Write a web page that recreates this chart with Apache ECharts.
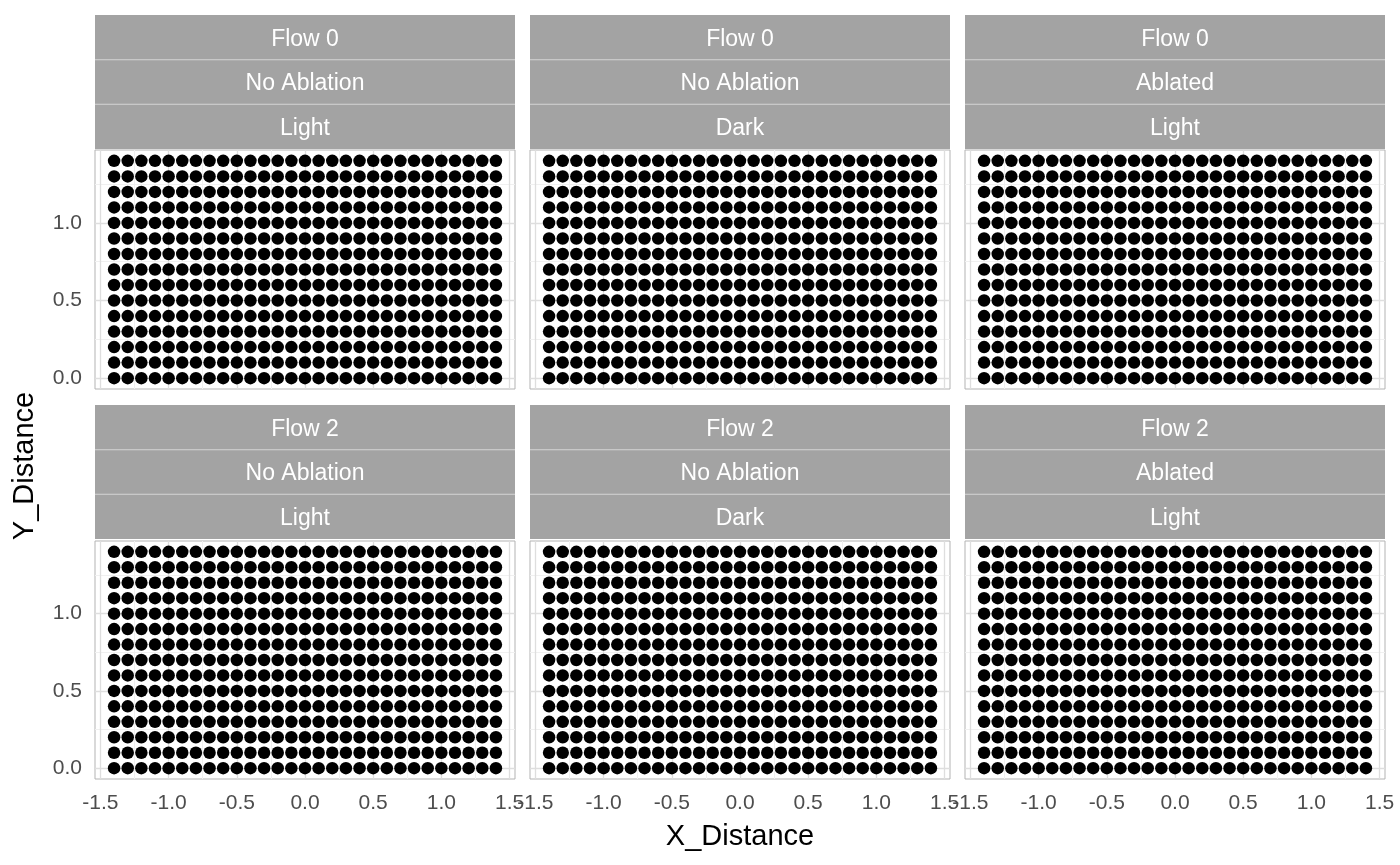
<!DOCTYPE html>
<html>
<head>
<meta charset="utf-8">
<script src="https://cdn.jsdelivr.net/npm/echarts@6/dist/echarts.min.js"></script>
<style>
  html, body { margin: 0; padding: 0; background: #fff; }
  #main { width: 1400px; height: 865px; }
</style>
</head>
<body>
<div id="main"></div>
<script>
// grid of measurement positions (same in every facet)
var xPositions = [-1.4, -1.3, -1.2, -1.1, -1.0, -0.9, -0.8, -0.7, -0.6, -0.5, -0.4, -0.3, -0.2, -0.1, 0.0,
                  0.1, 0.2, 0.3, 0.4, 0.5, 0.6, 0.7, 0.8, 0.9, 1.0, 1.1, 1.2, 1.3, 1.4];
var yPositions = [0.0, 0.1, 0.2, 0.3, 0.4, 0.5, 0.6, 0.7, 0.8, 0.9, 1.0, 1.1, 1.2, 1.3, 1.4];

// facet labels
var flowLabels = ['Flow 0', 'Flow 2'];              // rows
var ablationLabels = ['No Ablation', 'No Ablation', 'Ablated']; // columns
var lightLabels = ['Light', 'Dark', 'Light'];       // columns

// axis ticks
var xTicks = [-1.5, -1.0, -0.5, 0.0, 0.5, 1.0, 1.5];
var xMinor = [-1.25, -0.75, -0.25, 0.25, 0.75, 1.25];
var yTicks = [0.0, 0.5, 1.0];
var yMinor = [0.25, 0.75, 1.25];

var font = 'Liberation Sans, Arial, Helvetica, sans-serif';
var colLeft = [95, 530, 965];
var panelW = 420;
var stripTop = [15, 405];
var stripH = 134;
var plotTop = [150, 541];
var plotH = [239, 238];

var points = [];
yPositions.forEach(function (y) {
    xPositions.forEach(function (x) { points.push([x, y]); });
});

var grids = [], xAxes = [], yAxes = [], series = [], graphics = [];

function lineData(vals, key) {
    return vals.map(function (v) { var o = {}; o[key] = v; return o; });
}

for (var r = 0; r < 2; r++) {
    for (var c = 0; c < 3; c++) {
        var i = r * 3 + c;
        grids.push({
            left: colLeft[c], top: plotTop[r], width: panelW, height: plotH[r],
            show: true, borderColor: '#b3b3b3', borderWidth: 1, backgroundColor: '#fff'
        });
        xAxes.push({
            gridIndex: i, type: 'value', min: -1.54, max: 1.54,
            axisLine: { show: false },
            splitLine: { show: false },
            axisTick: { show: r == 1, customValues: xTicks, length: 7, lineStyle: { color: '#b3b3b3' } },
            axisLabel: {
                show: r == 1, customValues: xTicks, margin: 14,
                color: '#4d4d4d', fontSize: 21, fontFamily: font,
                formatter: function (v) { return v.toFixed(1); }
            },
            name: (r == 1 && c == 1) ? 'X_Distance' : '',
            nameLocation: 'middle', nameGap: 43,
            nameTextStyle: { color: '#000', fontSize: 29, fontFamily: font }
        });
        yAxes.push({
            gridIndex: i, type: 'value', min: -0.07, max: 1.47,
            axisLine: { show: false },
            splitLine: { show: false },
            axisTick: { show: c == 0, customValues: yTicks, length: 7, lineStyle: { color: '#b3b3b3' } },
            axisLabel: {
                show: c == 0, customValues: yTicks, margin: 13,
                color: '#4d4d4d', fontSize: 21, fontFamily: font,
                formatter: function (v) { return v.toFixed(1); }
            }
        });
        // gridlines (kept under the points)
        series.push({
            type: 'scatter', xAxisIndex: i, yAxisIndex: i, data: [], z: 1,
            silent: true, animation: false,
            markLine: {
                z: 1, silent: true, symbol: ['none', 'none'], animation: false,
                label: { show: false },
                lineStyle: { color: '#f0f0f0', width: 1, type: 'solid' },
                data: lineData(xMinor, 'xAxis').concat(lineData(yMinor, 'yAxis'))
            }
        });
        series.push({
            type: 'scatter', xAxisIndex: i, yAxisIndex: i, data: [], z: 1,
            silent: true, animation: false,
            markLine: {
                z: 1, silent: true, symbol: ['none', 'none'], animation: false,
                label: { show: false },
                lineStyle: { color: '#dedede', width: 1.3, type: 'solid' },
                data: lineData(xTicks, 'xAxis').concat(lineData(yTicks, 'yAxis'))
            }
        });
        series.push({
            type: 'scatter', xAxisIndex: i, yAxisIndex: i, z: 3,
            data: points, symbolSize: 12.5,
            itemStyle: { color: '#000', opacity: 1 },
            animation: false
        });

        // strips
        var labels = [flowLabels[r], ablationLabels[c], lightLabels[c]];
        var bandH = stripH / 3;
        graphics.push({
            type: 'rect', left: colLeft[c], top: stripTop[r],
            shape: { width: panelW, height: stripH },
            style: { fill: '#a3a3a3' }
        });
        for (var k = 0; k < 3; k++) {
            if (k > 0) {
                graphics.push({
                    type: 'rect', left: colLeft[c], top: stripTop[r] + k * bandH - 0.5,
                    shape: { width: panelW, height: 1 },
                    style: { fill: '#d4d4d4' }
                });
            }
            graphics.push({
                type: 'text',
                x: colLeft[c] + panelW / 2, y: stripTop[r] + k * bandH + bandH / 2 + 2,
                style: {
                    text: labels[k], fill: '#fff', fontSize: 23, fontFamily: font,
                    align: 'center', verticalAlign: 'middle'
                }
            });
        }
    }
}

graphics.push({
    type: 'text', x: 25, y: 466, rotation: Math.PI / 2,
    style: {
        text: 'Y_Distance', fill: '#000', fontSize: 29, fontFamily: font,
        align: 'center', verticalAlign: 'middle'
    }
});

var chart = echarts.init(document.getElementById('main'));
chart.setOption({
    backgroundColor: '#fff',
    animation: false,
    grid: grids,
    xAxis: xAxes,
    yAxis: yAxes,
    series: series,
    graphic: graphics
});
</script>
</body>
</html>
